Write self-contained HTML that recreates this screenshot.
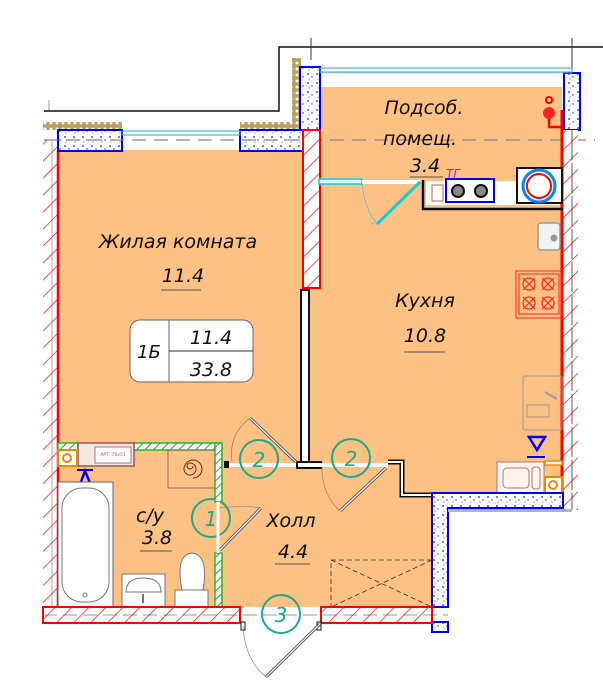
<!DOCTYPE html>
<html><head><meta charset="utf-8"><style>
html,body{margin:0;padding:0;background:#fff}
svg{display:block}
text{font-family:"DejaVu Sans","Liberation Sans",sans-serif;font-style:italic;fill:#111}
</style></head><body>
<svg width="603" height="689" viewBox="0 0 603 689" xmlns="http://www.w3.org/2000/svg">
<defs>
<pattern id="h" width="12" height="12" patternUnits="userSpaceOnUse" patternTransform="rotate(45)">
<rect width="12" height="12" fill="#fff"/><line x1="0" y1="0" x2="0" y2="12" stroke="#f22" stroke-width="1.6"/></pattern>
<pattern id="g" width="6" height="6" patternUnits="userSpaceOnUse" patternTransform="rotate(45)">
<rect width="6" height="6" fill="#fff"/><line x1="0" y1="0" x2="0" y2="6" stroke="#2a2" stroke-width="2"/></pattern>
<pattern id="b" width="9" height="9" patternUnits="userSpaceOnUse">
<rect width="9" height="9" fill="#fff"/><circle cx="2" cy="2" r="0.9" fill="#12d"/><circle cx="6" cy="5" r="0.7" fill="#12d"/><circle cx="3" cy="7" r="0.6" fill="#66e"/></pattern>
<pattern id="t" width="6" height="6" patternUnits="userSpaceOnUse">
<rect width="6" height="6" fill="#b9a060"/><circle cx="3" cy="3" r="1.5" fill="#fff"/></pattern>
</defs>

<!-- outer black outline -->
<polyline points="44,111 279,111 279,47 603,47" fill="none" stroke="#111" stroke-width="1.5"/>
<line x1="311" y1="38" x2="311" y2="60" stroke="#333"/>
<line x1="572" y1="38" x2="572" y2="70" stroke="#333"/>
<line x1="49" y1="100" x2="49" y2="110" stroke="#999"/>

<!-- floor fills -->
<rect x="58" y="150" width="245" height="457" fill="#fdc183"/>
<rect x="320" y="87" width="242" height="406" fill="#fdc183"/>
<rect x="300" y="287" width="132" height="320" fill="#fdc183"/>
<rect x="222" y="455" width="90" height="152" fill="#fdc183"/>
<!-- white strips under windows -->
<rect x="58" y="131" width="245" height="19" fill="#fff"/>

<!-- left wall -->
<rect x="43" y="140" width="15" height="483" fill="url(#h)"/>
<line x1="58" y1="150" x2="58" y2="607" stroke="#f00" stroke-width="2.5"/>
<line x1="52" y1="140" x2="52" y2="607" stroke="#777" stroke-width="0.6"/>

<!-- top windows / blocks -->
<rect x="43" y="122" width="79" height="8" fill="url(#t)"/>
<rect x="240" y="122" width="57" height="8" fill="url(#t)"/>
<rect x="292" y="58" width="9" height="72" fill="url(#t)"/>
<rect x="58" y="130" width="64" height="21" fill="url(#b)" stroke="#00f" stroke-width="2"/>
<rect x="240" y="130" width="63" height="21" fill="url(#b)" stroke="#00f" stroke-width="2"/>
<rect x="300" y="67" width="20" height="63" fill="url(#b)" stroke="#00f" stroke-width="2"/>
<rect x="564" y="73" width="16" height="57" fill="url(#b)" stroke="#00f" stroke-width="2"/>
<rect x="122" y="131" width="118" height="4" fill="none" stroke="#2ac" stroke-width="1"/>
<rect x="320" y="68" width="252" height="4" fill="none" stroke="#2ac" stroke-width="1"/>
<line x1="320" y1="73" x2="572" y2="73" stroke="#aaa" stroke-width="0.6"/>
<line x1="44" y1="140" x2="595" y2="140" stroke="#888" stroke-dasharray="14,8" stroke-width="1.2"/>

<!-- wall between living and kitchen -->
<rect x="303" y="130" width="17" height="158" fill="url(#h)" stroke="#f00" stroke-width="2"/>
<rect x="301" y="290" width="8" height="174" fill="#fff" stroke="#111" stroke-width="2"/>
<rect x="297" y="462" width="24" height="6" fill="#fff" stroke="#111" stroke-width="2"/>

<!-- right wall -->
<rect x="562" y="130" width="16" height="380" fill="url(#h)"/>
<line x1="562" y1="110" x2="562" y2="510" stroke="#f00" stroke-width="3"/>
<line x1="572" y1="130" x2="572" y2="510" stroke="#333" stroke-width="0.8" stroke-dasharray="30,3"/>
<!-- valve -->
<circle cx="549" cy="113" r="6" fill="#f22"/><circle cx="549" cy="100" r="3" fill="none" stroke="#f00" stroke-width="2"/>
<polyline points="549,119 549,127 562,127" fill="none" stroke="#f00" stroke-width="2.5"/>

<!-- podsob texts -->
<text x="424" y="114" font-size="19" text-anchor="middle">Подсоб.</text>
<text x="420" y="145" font-size="19" text-anchor="middle">помещ.</text>
<text x="425" y="172" font-size="19" text-anchor="middle">3.4</text>
<line x1="410" y1="177" x2="443" y2="177" stroke="#555"/>
<text x="446" y="178" font-size="12" style="fill:#e0e" >ТГ</text>

<!-- partition / door podsob -->
<rect x="319" y="179" width="43" height="5" fill="#dff" stroke="#1cd" stroke-width="1.5"/>
<line x1="362" y1="182" x2="420" y2="182" stroke="#fff" stroke-width="4"/>
<line x1="420" y1="182" x2="377" y2="224" stroke="#1cd" stroke-width="3"/>
<path d="M362,183 Q365,210 377,224" fill="none" stroke="#1cd" stroke-width="0.6"/>
<polyline points="423,180 423,209 563,209" fill="none" stroke="#111" stroke-width="2.5"/>
<rect x="426" y="181" width="134" height="24" fill="#fff"/>
<rect x="446" y="179" width="48" height="23" fill="#fff" stroke="#00f" stroke-width="2"/>
<circle cx="458" cy="191" r="6" fill="#888" stroke="#111" stroke-width="2"/>
<circle cx="481" cy="191" r="6" fill="#888" stroke="#111" stroke-width="2"/>
<rect x="432" y="185" width="11" height="16" fill="none" stroke="#a66" stroke-width="1"/>
<rect x="517" y="168" width="45" height="35" fill="#fff" stroke="#111" stroke-width="2"/>
<circle cx="539" cy="186" r="16" fill="none" stroke="#08f" stroke-width="3"/>
<circle cx="539" cy="186" r="12" fill="none" stroke="#f00" stroke-width="2"/>

<!-- kitchen fixtures -->
<rect x="538" y="223" width="22" height="27" rx="3" fill="#f3f3f3" stroke="#999" stroke-width="1.5"/>
<circle cx="554" cy="238" r="3.5" fill="#999"/>
<rect x="516" y="271" width="46" height="47" fill="none" stroke="#f22" stroke-width="1"/>
<rect x="519" y="274" width="40" height="40" fill="none" stroke="#f22" stroke-width="1"/>
<g fill="none" stroke="#f22" stroke-width="1.2">
<circle cx="529" cy="284" r="6"/><circle cx="548" cy="284" r="6"/><circle cx="529" cy="303" r="6"/><circle cx="548" cy="303" r="6"/>
<path d="M523,278l12,12m0-12l-12,12M542,278l12,12m0-12l-12,12M523,297l12,12m0-12l-12,12M542,297l12,12m0-12l-12,12"/></g>
<rect x="523" y="376" width="39" height="54" rx="2" fill="none" stroke="#999" stroke-width="1"/>
<rect x="527" y="405" width="22" height="12" fill="none" stroke="#999"/>
<line x1="545" y1="392" x2="557" y2="399" stroke="#999" stroke-width="2"/>
<text x="425" y="307" font-size="19" text-anchor="middle">Кухня</text>
<text x="425" y="342" font-size="19" text-anchor="middle">10.8</text>
<line x1="404" y1="352" x2="445" y2="352" stroke="#555"/>
<polygon points="529,437 545,437 537,450" fill="none" stroke="#00f" stroke-width="2.5"/>
<line x1="527" y1="457" x2="545" y2="457" stroke="#00f" stroke-width="2"/>
<rect x="497" y="462" width="47" height="31" fill="#fff5ec" stroke="#a77" stroke-width="1"/>
<rect x="503" y="468" width="26" height="20" rx="4" fill="none" stroke="#a77"/>
<rect x="532" y="467" width="8" height="22" rx="3" fill="none" stroke="#a77"/>
<rect x="545" y="461" width="17" height="4" fill="#fff" stroke="#e80" stroke-width="1.5"/>
<rect x="545" y="477" width="17" height="16" fill="#fff" stroke="#e80" stroke-width="2"/>
<circle cx="553" cy="485" r="4" fill="none" stroke="#e80" stroke-width="2"/>

<!-- black step wall -->
<polyline points="388,462 402,462 402,495 433,495" fill="none" stroke="#111" stroke-width="5"/>
<polyline points="388,462 402,462 402,495 433,495" fill="none" stroke="#fff" stroke-width="2"/>

<!-- blue wall bottom right -->
<path d="M432,493 H563 V508 H448 V607 H432 Z" fill="url(#b)" stroke="#00f" stroke-width="2"/>
<rect x="448" y="509" width="124" height="3" fill="#a9bbb4"/>
<rect x="432" y="622" width="16" height="10" fill="url(#b)" stroke="#00f" stroke-width="2"/>

<!-- doors 2 -->
<line x1="228" y1="465" x2="296" y2="465" stroke="#fff" stroke-width="4"/>
<line x1="320" y1="465" x2="388" y2="465" stroke="#fff" stroke-width="4"/>
<rect x="224" y="461" width="5" height="7" fill="#111"/>
<line x1="296" y1="462" x2="250" y2="418" stroke="#555" stroke-width="3"/><line x1="296" y1="462" x2="250" y2="418" stroke="#fff" stroke-width="1.2"/>
<path d="M250,418 Q228,435 232,462" fill="none" stroke="#777" stroke-width="0.6"/>
<line x1="386" y1="468" x2="340" y2="511" stroke="#555" stroke-width="3"/><line x1="386" y1="468" x2="340" y2="511" stroke="#fff" stroke-width="1.2"/>
<path d="M322,467 Q322,495 340,511" fill="none" stroke="#777" stroke-width="0.6"/>
<g fill="none" stroke="#1aa98a" stroke-width="2"><circle cx="259" cy="459" r="19"/><circle cx="351" cy="458" r="19"/><circle cx="211" cy="518" r="19"/><circle cx="281" cy="614" r="19"/></g>
<g style="fill:#1aa98a" font-size="20" text-anchor="middle"><text x="259" y="467" style="fill:#1aa98a">2</text><text x="351" y="466" style="fill:#1aa98a">2</text><text x="211" y="526" style="fill:#1aa98a">1</text><text x="281" y="622" style="fill:#1aa98a">3</text></g>

<!-- bathroom -->
<rect x="58" y="443" width="20" height="7" fill="url(#g)" stroke="#2b2" stroke-width="1.5"/>
<rect x="134" y="443" width="88" height="7" fill="url(#g)" stroke="#2b2" stroke-width="1.5"/>
<rect x="215" y="443" width="7" height="59" fill="url(#g)" stroke="#2b2" stroke-width="1.5"/>
<rect x="215" y="553" width="7" height="54" fill="url(#g)" stroke="#2b2" stroke-width="1.5"/>
<line x1="218" y1="502" x2="218" y2="553" stroke="#fff" stroke-width="3"/>
<line x1="220" y1="550" x2="261" y2="508" stroke="#555" stroke-width="3"/><line x1="220" y1="550" x2="261" y2="508" stroke="#fff" stroke-width="1.2"/>
<path d="M219,508 Q245,505 261,508" fill="none" stroke="#777" stroke-width="0.6"/>
<rect x="78" y="443" width="56" height="23" fill="#f4e8e0" stroke="#955" stroke-width="1.5"/>
<rect x="95" y="447" width="36" height="16" fill="#fff" stroke="#955" stroke-width="0.8"/>
<text x="113" y="456" font-size="4.5" text-anchor="middle" style="fill:#955">АРТ. 70x51</text>
<rect x="58" y="450" width="19" height="16" fill="#fff" stroke="#e80" stroke-width="2"/>
<circle cx="67" cy="458" r="4" fill="none" stroke="#e80" stroke-width="2"/>
<rect x="168" y="450" width="47" height="38" fill="none" stroke="#966" stroke-width="1"/>
<path d="M193,466 a3,3 0 1,1 -3,-3 a6,6 0 1,1 -6,6 a9,9 0 1,1 9,9" fill="none" stroke="#533" stroke-width="1"/>
<polygon points="85,471 78,490 93,490" fill="none" stroke="#00f" stroke-width="2.5"/>
<line x1="77" y1="470" x2="93" y2="470" stroke="#00f" stroke-width="2"/>
<rect x="58" y="482" width="55" height="125" fill="#fff" stroke="#666"/>
<rect x="62" y="488" width="47" height="114" rx="20" fill="none" stroke="#777"/>
<circle cx="85" cy="595" r="2" fill="none" stroke="#777"/>
<rect x="122" y="574" width="43" height="33" fill="#fff" stroke="#777"/>
<path d="M126,592 Q126,578 143,578 Q161,578 161,592 Z" fill="none" stroke="#777"/>
<line x1="143" y1="594" x2="143" y2="603" stroke="#777" stroke-width="2"/>
<rect x="175" y="590" width="33" height="17" fill="#fff" stroke="#777"/>
<path d="M182,590 Q175,555 192,553 Q209,555 203,590 Z" fill="#fff" stroke="#777"/>
<text x="150" y="522" font-size="19" text-anchor="middle">с/у</text>
<text x="157" y="544" font-size="19" text-anchor="middle">3.8</text>
<line x1="140" y1="551" x2="172" y2="551" stroke="#555"/>

<!-- hall -->
<text x="291" y="527" font-size="19" text-anchor="middle">Холл</text>
<text x="293" y="558" font-size="19" text-anchor="middle">4.4</text>
<line x1="275" y1="564" x2="310" y2="564" stroke="#555"/>
<g fill="none" stroke="#333" stroke-width="0.8" stroke-dasharray="5,3">
<rect x="331" y="560" width="101" height="47"/><line x1="331" y1="560" x2="432" y2="607"/><line x1="432" y1="560" x2="331" y2="607"/></g>

<!-- bottom wall -->
<rect x="43" y="607" width="197" height="16" fill="url(#h)" stroke="#f00" stroke-width="2"/>
<rect x="321" y="607" width="111" height="16" fill="url(#h)" stroke="#f00" stroke-width="2"/>
<line x1="43" y1="615" x2="448" y2="615" stroke="#333" stroke-width="0.6" stroke-dasharray="14,6"/>
<rect x="241" y="622" width="4" height="8" fill="#fff" stroke="#111"/>
<rect x="317" y="622" width="4" height="8" fill="#fff" stroke="#111"/>
<line x1="320" y1="624" x2="266" y2="677" stroke="#555" stroke-width="3"/><line x1="320" y1="624" x2="266" y2="677" stroke="#fff" stroke-width="1.2"/>
<path d="M243,626 Q245,660 266,677" fill="none" stroke="#777" stroke-width="0.6"/>

<!-- living texts -->
<text x="178" y="248" font-size="19" text-anchor="middle">Жилая комната</text>
<text x="183" y="282" font-size="19" text-anchor="middle">11.4</text>
<line x1="161" y1="290" x2="201" y2="290" stroke="#555"/>
<rect x="130" y="320" width="123" height="62" rx="10" fill="#fff" stroke="#666"/>
<line x1="169" y1="320" x2="169" y2="382" stroke="#666"/>
<line x1="169" y1="351" x2="253" y2="351" stroke="#333"/>
<text x="149" y="358" font-size="18" text-anchor="middle">1Б</text>
<text x="211" y="344" font-size="19" text-anchor="middle">11.4</text>
<text x="211" y="376" font-size="19" text-anchor="middle">33.8</text>
</svg>
</body></html>
